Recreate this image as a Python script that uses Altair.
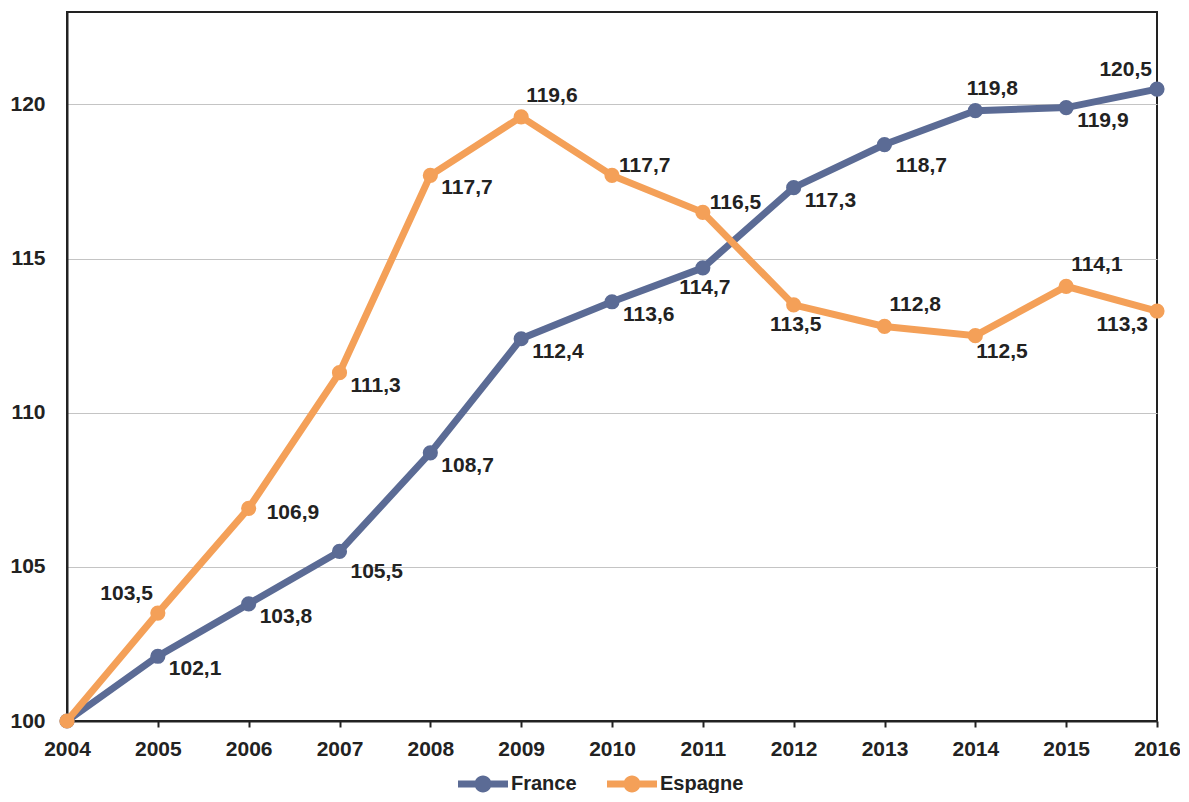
import altair as alt
import pandas as pd

years = list(range(2004, 2017))
france = [100, 102.1, 103.8, 105.5, 108.7, 112.4, 113.6, 114.7, 117.3, 118.7, 119.8, 119.9, 120.5]
espagne = [100, 103.5, 106.9, 111.3, 117.7, 119.6, 117.7, 116.5, 113.5, 112.8, 112.5, 114.1, 113.3]
series_names = ["France", "Espagne"]
colors = ["#5b6b95", "#f4a058"]
y_ticks = [100, 105, 110, 115, 120]

# label placement codes per point ("" = no label)
france_place = ["", "br", "br", "bbr", "br", "br", "br", "b", "br", "bbr", "a", "br", "al"]
espagne_place = ["", "al", "r", "br", "br", "ar", "ur", "ur", "b", "ar", "bl0", "ar", "bl"]

placements = {
    "br": ("left", 11, 13),
    "bbr": ("left", 11, 21),
    "b": ("center", 2, 20),
    "a": ("center", 17, -22),
    "al": ("right", -5, -19),
    "r": ("left", 18, 5),
    "ar": ("left", 5, -21),
    "ur": ("left", 7, -9),
    "bl0": ("left", 1, 16),
    "bl": ("right", -9, 14),
}

rows = []
for name, vals, places in [("France", france, france_place), ("Espagne", espagne, espagne_place)]:
    for yr, v, p in zip(years, vals, places):
        rows.append({"year": yr, "value": v, "series": name,
                     "label": f"{v:.1f}".replace(".", ","), "place": p})
df = pd.DataFrame(rows)

FONT = "Liberation Sans"

x_enc = alt.X("year:Q", scale=alt.Scale(domain=[2004, 2016], nice=False, zero=False),
              axis=alt.Axis(values=years, format="d", title=None, grid=False,
                            labelFontSize=21, labelFont=FONT, labelFontWeight="bold",
                            labelColor="#222", domainColor="#222", domainWidth=2,
                            tickColor="#222", tickWidth=2, tickSize=6, labelPadding=11,
                            labelFlush=False))
y_enc = alt.Y("value:Q", scale=alt.Scale(domain=[100, 123], nice=False, zero=False),
              axis=alt.Axis(values=y_ticks, title=None, grid=True, gridColor="#c4c4c4",
                            gridWidth=1, ticks=False, labelFontSize=21, labelFont=FONT,
                            labelFontWeight="bold", labelColor="#222", domainColor="#222",
                            domainWidth=2, labelPadding=22))

legend_path = ("M-1,-0.14L1,-0.14L1,0.14L-1,0.14Z "
               "M-0.34,0A0.34,0.34 0 1,1 0.34,0A0.34,0.34 0 1,1 -0.34,0Z")
color_scale = alt.Scale(domain=series_names, range=colors)
color_enc = alt.Color("series:N", scale=color_scale,
                      legend=alt.Legend(title=None, orient="none", direction="horizontal",
                                        legendX=391, legendY=747,
                                        symbolType=legend_path, symbolSize=2500,
                                        symbolStrokeWidth=0, labelFontSize=20,
                                        labelFont=FONT, labelFontWeight="bold",
                                        labelColor="#222", labelOffset=3,
                                        columnPadding=30))

layers = []
for name in series_names:
    sub = alt.Chart(df).transform_filter(alt.datum.series == name)
    layers.append(sub.mark_line(strokeWidth=7).encode(x=x_enc, y=y_enc, color=color_enc))
    layers.append(sub.mark_circle(size=230, opacity=1).encode(x=x_enc, y=y_enc, color=color_enc))

for code, (align, dx, dy) in placements.items():
    layers.append(
        alt.Chart(df).transform_filter(alt.datum.place == code)
        .mark_text(align=align, baseline="middle", dx=dx, dy=dy, fontSize=21,
                   font=FONT, fontWeight="bold", color="#222")
        .encode(x=x_enc, y=y_enc, text="label:N")
    )

chart = alt.layer(*layers).properties(
    width=1090, height=709,
    autosize=alt.AutoSizeParams(type="none"),
    padding={"left": 59, "top": 4, "right": 23, "bottom": 72},
    background="white",
).configure_view(stroke="#222", strokeWidth=2)

chart.save("out.html", embed_options={"renderer": "svg", "actions": False})
